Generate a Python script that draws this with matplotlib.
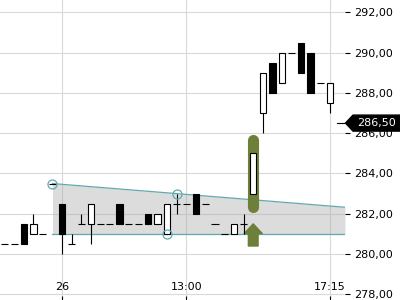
import numpy as np
import matplotlib
matplotlib.use('Agg')
import matplotlib.pyplot as plt
import matplotlib.transforms as mtransforms
from matplotlib.patches import Polygon

# candle data (index on x axis)
opens  = [280.5, 280.5, 281.5, 281.0, 281.0, 283.5, 282.5, 280.5, 281.5, 281.5,
          281.5, 281.5, 282.5, 281.5, 281.5, 282.0, 281.5, 281.0, 282.5, 282.5,
          283.0, 282.5, 281.5, 281.0, 281.0, 281.5, 283.0, 287.0, 289.5, 288.5,
          290.0, 290.5, 290.0, 288.5, 287.5]
closes = [280.5, 280.5, 280.5, 281.5, 281.0, 283.5, 281.0, 280.5, 281.5, 282.5,
          281.5, 281.5, 281.5, 281.5, 281.5, 281.5, 282.0, 282.5, 282.5, 282.5,
          282.0, 282.5, 281.5, 281.0, 281.5, 281.5, 285.0, 289.0, 288.0, 290.0,
          290.0, 289.0, 288.0, 288.5, 288.5]
highs  = [280.5, 280.5, 281.5, 282.0, 281.0, 283.5, 282.5, 281.0, 282.0, 282.5,
          281.5, 281.5, 282.5, 281.5, 281.5, 282.0, 282.0, 282.5, 283.0, 282.5,
          283.0, 282.5, 281.5, 281.0, 281.5, 282.0, 285.0, 289.0, 289.5, 290.0,
          290.0, 290.5, 290.0, 288.5, 288.5]
lows   = [280.5, 280.5, 280.5, 281.0, 281.0, 283.5, 280.0, 280.5, 281.5, 280.5,
          281.5, 281.5, 281.5, 281.5, 281.5, 281.5, 281.5, 281.0, 282.0, 282.5,
          282.0, 282.5, 281.5, 281.0, 281.0, 281.0, 283.0, 286.0, 288.0, 288.5,
          290.0, 289.0, 288.0, 288.5, 287.0]

xtick_pos = [6, 19, 34]
xtick_labels = ['26', '13:00', '17:15']
yticks = [278, 280, 282, 284, 286, 288, 290, 292]

# trend channel anchors
upper_pts = [(5, 283.5), (18, 283.0)]
lower_level = 281.0
circle_x = [5, 18, 17]
circle_y = [283.5, 283.0, 281.0]

# signal at candle 26
sig_x = 26
sig_bar = (282.35, 285.68)
sig_arrow = (280.4, 281.5)
last_price = 286.50

green = '#6e7f3a'
teal = '#62a9ae'

fig = plt.figure(figsize=(4, 3), dpi=100)
ax = fig.add_axes([0, 0, 0.8625, 1])
xmin, xmax = -0.49, 35.6
ax.set_xlim(xmin, xmax)
ax.set_ylim(277.72, 292.61)

for s in ax.spines.values():
    s.set_visible(False)

ax.set_xticks(xtick_pos)
ax.set_xticklabels(xtick_labels)
ax.set_yticks(yticks)
ax.set_yticklabels([('%.2f' % v).replace('.', ',') for v in yticks])
ax.yaxis.tick_right()
ax.tick_params(axis='y', direction='out', length=3.6, width=0.8, pad=3, labelsize=8, color='black')
ax.tick_params(axis='x', direction='in', length=3, width=0.8, pad=-13, labelsize=8)
ax.grid(True, color='#d9d9d9', linewidth=0.8, zorder=0)
ax.set_axisbelow(True)

# channel
slope = (upper_pts[1][1] - upper_pts[0][1]) / (upper_pts[1][0] - upper_pts[0][0])
cx = np.array([upper_pts[0][0], xmax])
cu = upper_pts[0][1] + slope * (cx - upper_pts[0][0])
ax.fill_between(cx, cu, [lower_level, lower_level], color='#a8a8a8', alpha=0.4, linewidth=0, zorder=1)
ax.plot(cx, cu, color=teal, lw=0.9, zorder=2)
ax.plot(cx, [lower_level, lower_level], color=teal, lw=0.9, zorder=2)

# signal bar behind candle
ax.plot([sig_x, sig_x], sig_bar, color=green, lw=8, solid_capstyle='round', zorder=3)
ax.annotate('', xy=(sig_x, sig_arrow[1]), xytext=(sig_x, sig_arrow[0]),
            arrowprops=dict(arrowstyle='simple,head_length=0.7,head_width=1.3,tail_width=0.7',
                            color=green, shrinkA=0, shrinkB=0, mutation_scale=10), zorder=3)

# candles
w = 0.66
for i in range(len(opens)):
    o, c, h, l = opens[i], closes[i], highs[i], lows[i]
    if h > l:
        ax.vlines(i, l, h, color='black', lw=0.8, zorder=4)
    if o == c:
        ax.hlines(o, i - w / 2 - 0.04, i + w / 2 + 0.04, color='black', lw=0.8, zorder=5)
    else:
        fc = 'white' if c > o else 'black'
        ax.bar(i, abs(c - o), bottom=min(o, c), width=w, color=fc, edgecolor='black',
               linewidth=0.8, zorder=5)

ax.plot(circle_x, circle_y, 'o', ms=6.5, mfc='none', mec=teal, mew=0.9, zorder=6, clip_on=False)

# last price label
tr = mtransforms.blended_transform_factory(fig.transFigure, ax.transData)
hh = 8 / 20.14
poly = Polygon([(345.5 / 400, last_price), (353 / 400, last_price + hh), (1.0, last_price + hh),
                (1.0, last_price - hh), (353 / 400, last_price - hh)],
               closed=True, transform=tr, color='black', clip_on=False, zorder=7)
fig.add_artist(poly)
fig.text(376 / 400, last_price, ('%.2f' % last_price).replace('.', ','), transform=tr,
         color='white', fontsize=8, ha='center', va='center', zorder=8)
ax.plot([337 / 400, 343.5 / 400], [last_price, last_price], color='black', lw=0.8,
        transform=tr, clip_on=False)

fig.savefig('out.png', dpi=100)
